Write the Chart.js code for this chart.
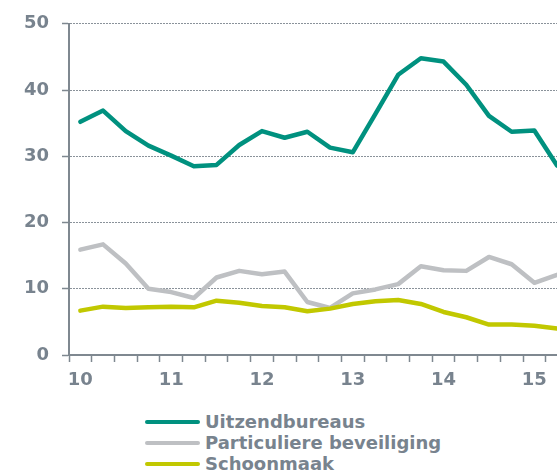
<!DOCTYPE html>
<html>
<head>
<meta charset="utf-8">
<script src="https://cdn.jsdelivr.net/npm/chart.js@4"></script>
<style>
  html, body { margin: 0; padding: 0; background: #fff; overflow: hidden; width: 557px; height: 474px; }
  #wrap { position: absolute; left: 0; top: 0; width: 575px; height: 400px; }
  #legend { position: absolute; left: 145px; top: 411px; font: bold 18px "DejaVu Sans", sans-serif; color: #78838e; }
  #legend div { height: 21px; line-height: 21px; white-space: nowrap; }
  #legend span { display: inline-block; width: 55px; height: 4px; border-radius: 2px; vertical-align: middle; margin-right: 5px; position: relative; top: -1px; }
</style>
</head>
<body>
<div id="wrap"><canvas id="chart" width="575" height="400"></canvas></div>
<div id="legend"></div>
<script>
// jaren (2010 t/m 2015), per kwartaal
const jaren = ['10', '11', '12', '13', '14', '15'];
const kwartalen = [];
jaren.forEach(j => { for (let q = 1; q <= 4; q++) kwartalen.push(j + '-K' + q); });
const categorieen = kwartalen.slice(0, 22);

const reeksNamen = ['Uitzendbureaus', 'Particuliere beveiliging', 'Schoonmaak'];
const uitzendbureaus = [35.2, 36.9, 33.8, 31.6, 30.1, 28.5, 28.7, 31.7, 33.8, 32.8, 33.7, 31.3,
                        30.6, 36.4, 42.3, 44.8, 44.3, 40.8, 36.1, 33.7, 33.9, 28.6];
const beveiliging   = [15.9, 16.7, 13.8, 10.0, 9.5, 8.6, 11.7, 12.7, 12.2, 12.6, 8.0, 7.1,
                        9.3, 9.9, 10.7, 13.4, 12.8, 12.7, 14.8, 13.7, 10.9, 12.1];
const schoonmaak    = [6.7, 7.3, 7.1, 7.2, 7.3, 7.2, 8.2, 7.9, 7.4, 7.2, 6.6, 7.0,
                       7.7, 8.1, 8.3, 7.7, 6.5, 5.7, 4.6, 4.6, 4.4, 4.0];
const yTicks = [0, 10, 20, 30, 40, 50];

const kleuren = ['#00917f', '#bec0c3', '#c1c800'];
const tekstKleur = '#78838e';
const asKleur = '#7f8890';
const font = { family: '"DejaVu Sans", sans-serif', size: 18, weight: 'bold' };

const reeksen = [uitzendbureaus, beveiliging, schoonmaak];

new Chart(document.getElementById('chart'), {
    type: 'line',
    data: {
        labels: categorieen,
        datasets: reeksen.map((d, i) => ({
            label: reeksNamen[i],
            data: d,
            borderColor: kleuren[i],
            backgroundColor: kleuren[i],
            borderWidth: 4.5,
            pointRadius: 0,
            tension: 0,
            borderJoinStyle: 'round',
            borderCapStyle: 'round'
        })).reverse()
    },
    options: {
        responsive: false,
        animation: false,
        layout: { padding: { left: 0, right: 6.6, top: 14, bottom: 0 } },
        plugins: { legend: { display: false }, tooltip: { enabled: false } },
        scales: {
            x: {
                offset: true,
                grid: { offset: true, drawOnChartArea: false, tickLength: 7, tickColor: asKleur, tickWidth: 1.5 },
                border: { color: asKleur, width: 2 },
                ticks: {
                    autoSkip: false, maxRotation: 0, padding: 8,
                    color: tekstKleur, font: font,
                    callback: function (v) {
                        const l = this.getLabelForValue(v);
                        return l.endsWith('K1') ? l.split('-')[0] : '';
                    }
                },
                afterFit: s => { s.height = 45; }
            },
            y: {
                min: 0, max: 50,
                afterBuildTicks: s => { s.ticks = yTicks.map(v => ({ value: v })); },
                grid: { color: '#8a929a', lineWidth: 1, tickLength: 7, tickColor: asKleur, tickWidth: 1.5 },
                border: { color: asKleur, width: 2, dash: [2, 1] },
                ticks: { padding: 13, color: tekstKleur, font: font },
                afterFit: s => { s.width = 69; }
            }
        }
    }
});

const legend = document.getElementById('legend');
reeksNamen.forEach((n, i) => {
    const r = document.createElement('div');
    r.innerHTML = `<span style="background:${kleuren[i]}"></span>${n}`;
    legend.appendChild(r);
});
</script>
</body>
</html>
